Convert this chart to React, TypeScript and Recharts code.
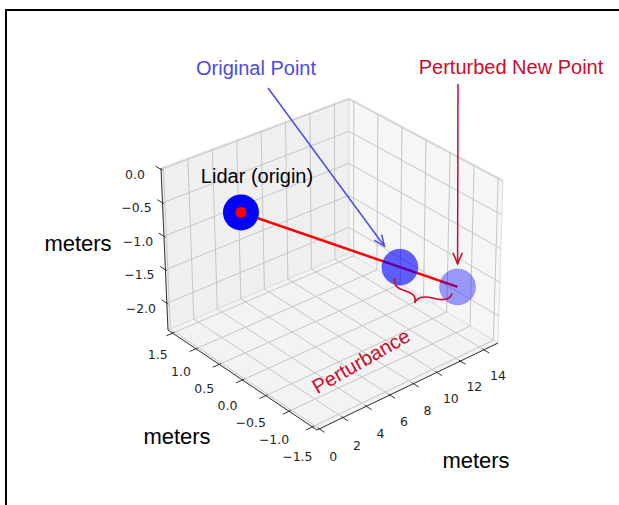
import React from 'react';
import { ScatterChart, Scatter, XAxis, YAxis } from 'recharts';

// axis ticks and limits (meters)
const X_TICKS = [0, 2, 4, 6, 8, 10, 12, 14];
const Y_TICKS = [-1.5, -1.0, -0.5, 0.0, 0.5, 1.0, 1.5];
const Z_TICKS = [-2.0, -1.5, -1.0, -0.5, 0.0];
const X_LIM = [-0.2, 15.2];
const Y_LIM = [-1.6, 1.6];
const Z_LIM = [-2.4, 0.02];

// points (x, y, z)
const LIDAR = [0, 0, 0];
const ORIGINAL = [9.15, -1.0, -1.05];
const PERTURBED = [12.55, -1.37, -1.45];

const W = 619;
const H = 505;

// camera: screen spot of the box corners, f = (xmin,ymin) r = (xmax,ymin) l = (xmin,ymax) b = (xmax,ymax)
const VIEW_BOTTOM = { f: [317, 430], r: [498, 343], l: [168, 330], b: [349, 253] };
const VIEW_TOP = { f: [316, 256], r: [503, 180], l: [161, 168], b: [349, 98] };

// annotation placement (screen px)
const NOTE = {
  original: { x: 256, y: 68, from: [268, 88] },
  perturbed: { x: 511, y: 67, from: [458, 84] },
  lidar: { x: 257, y: 176 },
  perturbance: { x: 361, y: 361, angle: -30 },
  zLabel: { x: 78, y: 243 },
  yLabel: { x: 177, y: 436 },
  xLabel: { x: 476, y: 460 },
};

const BLUE_NOTE = '#4b4be6';
const RED_NOTE = '#cc0a2a';

const norm = (v: number, lim: number[]) => (v - lim[0]) / (lim[1] - lim[0]);
const bil = (c: any, u: number, v: number, i: number) =>
  (1 - u) * (1 - v) * c.f[i] + u * (1 - v) * c.r[i] + (1 - u) * v * c.l[i] + u * v * c.b[i];

function project(p: number[]) {
  const u = norm(p[0], X_LIM);
  const v = norm(p[1], Y_LIM);
  const w = norm(p[2], Z_LIM);
  return {
    px: bil(VIEW_BOTTOM, u, v, 0) * (1 - w) + bil(VIEW_TOP, u, v, 0) * w,
    py: bil(VIEW_BOTTOM, u, v, 1) * (1 - w) + bil(VIEW_TOP, u, v, 1) * w,
  };
}

const [X0, X1] = X_LIM;
const [Y0, Y1] = Y_LIM;
const [Z0, Z1] = Z_LIM;
const RX = X1 - X0;
const RY = Y1 - Y0;

const fmt = (v: number) => (v < 0 ? '\u2212' : '') + Math.abs(v).toFixed(1);

const panes = [
  { fill: '#efefef', pts: [[X0, Y1, Z0], [X1, Y1, Z0], [X1, Y1, Z1], [X0, Y1, Z1]] },
  { fill: '#f6f6f6', pts: [[X1, Y0, Z0], [X1, Y1, Z0], [X1, Y1, Z1], [X1, Y0, Z1]] },
  { fill: '#f3f3f3', pts: [[X0, Y0, Z0], [X1, Y0, Z0], [X1, Y1, Z0], [X0, Y1, Z0]] },
];

const gridSegs = [
  ...X_TICKS.map((t) => [[t, Y1, Z0], [t, Y1, Z1]]),
  ...Z_TICKS.map((t) => [[X0, Y1, t], [X1, Y1, t]]),
  ...Y_TICKS.map((t) => [[X1, t, Z0], [X1, t, Z1]]),
  ...Z_TICKS.map((t) => [[X1, Y0, t], [X1, Y1, t]]),
  ...X_TICKS.map((t) => [[t, Y0, Z0], [t, Y1, Z0]]),
  ...Y_TICKS.map((t) => [[X0, t, Z0], [X1, t, Z0]]),
];

const axisSegs = [
  [[X0, Y1, Z0], [X0, Y1, Z1]],
  [[X0, Y0, Z0], [X0, Y1, Z0]],
  [[X0, Y0, Z0], [X1, Y0, Z0]],
  ...X_TICKS.map((t) => [[t, Y0 + 0.01 * RY, Z0], [t, Y0 - 0.035 * RY, Z0]]),
  ...Y_TICKS.map((t) => [[X0 + 0.01 * RX, t, Z0], [X0 - 0.035 * RX, t, Z0]]),
  ...Z_TICKS.map((t) => [[X0, Y1 - 0.01 * RY, t], [X0, Y1 + 0.035 * RY, t]]),
];

const tickLabels = [
  ...X_TICKS.map((t) => {
    const p = project([t, Y0, Z0]);
    const u = norm(t, X_LIM);
    return { px: p.px + 14, py: p.py + 28 - 3 * u, label: String(t) };
  }),
  ...Y_TICKS.map((t) => {
    const p = project([X0, t, Z0]);
    const v = norm(t, Y_LIM);
    return { px: p.px - 15, py: p.py + 21 + 9 * (1 - v), label: fmt(t) };
  }),
  ...Z_TICKS.map((t) => {
    const p = project([X0, Y1, t]);
    return { px: p.px - 26, py: p.py + 5, label: fmt(t) };
  }),
];

const shrinkTo = (from: number[], target: number[], gap: number) => {
  const t = project(target);
  const dx = t.px - from[0];
  const dy = t.py - from[1];
  const len = Math.hypot(dx, dy);
  return { px: t.px - (dx / len) * gap, py: t.py - (dy / len) * gap };
};

const none = () => <g />;

const arrowLine = (color: string) => (props: any) => {
  const [a, b] = props.points;
  const ang = Math.atan2(b.y - a.y, b.x - a.x);
  const L = 12;
  const s = 0.4;
  const p1 = `${b.x - L * Math.cos(ang - s)},${b.y - L * Math.sin(ang - s)}`;
  const p2 = `${b.x - L * Math.cos(ang + s)},${b.y - L * Math.sin(ang + s)}`;
  return (
    <g>
      <line x1={a.x} y1={a.y} x2={b.x} y2={b.y} stroke={color} strokeWidth={1.5} />
      <polyline points={`${p1} ${b.x},${b.y} ${p2}`} fill="none" stroke={color} strokeWidth={1.5} />
    </g>
  );
};

// curly brace under the segment original -> perturbed
const braceLine = (props: any) => {
  const [p, q] = props.points;
  const len = Math.hypot(q.x - p.x, q.y - p.y);
  const d = { x: (q.x - p.x) / len, y: (q.y - p.y) / len };
  const n = { x: -d.y, y: d.x };
  const A = { x: p.x + n.x * 12 - d.x * 1, y: p.y + n.y * 12 - d.y * 1 };
  const B = { x: q.x + n.x * 8 - d.x * 3, y: q.y + n.y * 8 - d.y * 3 };
  const f = 0.45;
  const M = { x: A.x + (B.x - A.x) * f, y: A.y + (B.y - A.y) * f };
  const h = 19;
  const C = { x: M.x + n.x * h, y: M.y + n.y * h };
  const half = (E: any) => {
    const c1 = { x: E.x + n.x * h * 0.5, y: E.y + n.y * h * 0.5 };
    const mid = { x: c1.x + (M.x - E.x) * 0.5, y: c1.y + (M.y - E.y) * 0.5 };
    const c2 = { x: M.x + n.x * h * 0.5, y: M.y + n.y * h * 0.5 };
    return `M${E.x},${E.y} Q${c1.x},${c1.y} ${mid.x},${mid.y} Q${c2.x},${c2.y} ${C.x},${C.y}`;
  };
  return <path d={`${half(A)} ${half(B)}`} fill="none" stroke={RED_NOTE} strokeWidth={1.6} />;
};

const textShape = (style: any) => (p: any) => (
  <text
    x={p.cx}
    y={p.cy}
    textAnchor="middle"
    dominantBaseline="central"
    transform={p.payload.angle ? `rotate(${p.payload.angle} ${p.cx} ${p.cy})` : undefined}
    {...style}
  >
    {p.payload.label}
  </text>
);

const tickText = textShape({ fontFamily: 'DejaVu Sans, sans-serif', fontSize: 12.5, fill: '#1f1f1f' });
const axisText = textShape({ fontFamily: 'Liberation Sans, Arial, sans-serif', fontSize: 22, fill: '#000' });

const lidarShape = (p: any) => (
  <g>
    <circle cx={p.cx} cy={p.cy} r={18} fill="#0000ff" />
    <circle cx={p.cx} cy={p.cy} r={5.5} fill="#ff0000" />
  </g>
);
const ballShape = (opacity: number) => (p: any) => (
  <circle cx={p.cx} cy={p.cy} r={18} fill="#0000ff" fillOpacity={opacity} stroke="#0000ff" strokeOpacity={opacity * 0.5} />
);

export default function App() {
  const lidar = project(LIDAR);
  const original = project(ORIGINAL);
  const perturbed = project(PERTURBED);
  const origFrom = { px: NOTE.original.from[0], py: NOTE.original.from[1] };
  const pertFrom = { px: NOTE.perturbed.from[0], py: NOTE.perturbed.from[1] };

  return (
    <div style={{ position: 'absolute', left: 0, top: 0, width: W, height: H, background: '#fff', overflow: 'hidden' }}>
      <ScatterChart width={W} height={H} margin={{ top: 0, right: 0, bottom: 0, left: 0 }}>
        <XAxis type="number" dataKey="px" domain={[0, W]} allowDataOverflow hide />
        <YAxis type="number" dataKey="py" domain={[0, H]} allowDataOverflow reversed hide />

        {panes.map((pane, i) => (
          <Scatter
            key={`pane${i}`}
            data={[...pane.pts, pane.pts[0]].map(project)}
            shape={none}
            line={{ stroke: '#dedede', strokeWidth: 1, fill: pane.fill }}
            lineJointType="linear"
            isAnimationActive={false}
          />
        ))}
        {gridSegs.map((s, i) => (
          <Scatter
            key={`grid${i}`}
            data={s.map(project)}
            shape={none}
            line={{ stroke: '#c6c6c6', strokeWidth: 1 }}
            lineJointType="linear"
            isAnimationActive={false}
          />
        ))}
        {axisSegs.map((s, i) => (
          <Scatter
            key={`axis${i}`}
            data={s.map(project)}
            shape={none}
            line={{ stroke: '#333', strokeWidth: 1 }}
            lineJointType="linear"
            isAnimationActive={false}
          />
        ))}
        <Scatter data={tickLabels} shape={tickText} isAnimationActive={false} />

        <Scatter
          data={[lidar, perturbed]}
          shape={none}
          line={{ stroke: '#ff0000', strokeWidth: 2.5 }}
          lineJointType="linear"
          isAnimationActive={false}
        />
        <Scatter data={[lidar]} shape={lidarShape} isAnimationActive={false} />
        <Scatter data={[original]} shape={ballShape(0.62)} isAnimationActive={false} />
        <Scatter data={[perturbed]} shape={ballShape(0.38)} isAnimationActive={false} />

        <Scatter data={[original, perturbed]} shape={none} line={braceLine} isAnimationActive={false} />
        <Scatter
          data={[origFrom, shrinkTo(NOTE.original.from, ORIGINAL, 26)]}
          shape={none}
          line={arrowLine(BLUE_NOTE)}
          isAnimationActive={false}
        />
        <Scatter
          data={[pertFrom, shrinkTo(NOTE.perturbed.from, PERTURBED, 23)]}
          shape={none}
          line={arrowLine(RED_NOTE)}
          isAnimationActive={false}
        />

        <Scatter
          data={[{ px: NOTE.original.x, py: NOTE.original.y, label: 'Original Point' }]}
          shape={textShape({ fontFamily: 'Liberation Sans, Arial, sans-serif', fontSize: 20, fill: BLUE_NOTE })}
          isAnimationActive={false}
        />
        <Scatter
          data={[
            { px: NOTE.perturbed.x, py: NOTE.perturbed.y, label: 'Perturbed New Point' },
            { px: NOTE.perturbance.x, py: NOTE.perturbance.y, label: 'Perturbance', angle: NOTE.perturbance.angle },
          ]}
          shape={textShape({ fontFamily: 'Liberation Sans, Arial, sans-serif', fontSize: 20, fill: RED_NOTE })}
          isAnimationActive={false}
        />
        <Scatter
          data={[{ px: NOTE.lidar.x, py: NOTE.lidar.y, label: 'Lidar (origin)' }]}
          shape={textShape({ fontFamily: 'Liberation Sans, Arial, sans-serif', fontSize: 20, fill: '#000' })}
          isAnimationActive={false}
        />
        <Scatter
          data={[
            { px: NOTE.zLabel.x, py: NOTE.zLabel.y, label: 'meters' },
            { px: NOTE.yLabel.x, py: NOTE.yLabel.y, label: 'meters' },
            { px: NOTE.xLabel.x, py: NOTE.xLabel.y, label: 'meters' },
          ]}
          shape={axisText}
          isAnimationActive={false}
        />
      </ScatterChart>
      <div
        style={{
          position: 'absolute',
          left: 5,
          top: 9,
          width: W - 5,
          height: H - 9,
          borderLeft: '2px solid #000',
          borderTop: '2px solid #000',
          boxSizing: 'border-box',
          pointerEvents: 'none',
        }}
      />
    </div>
  );
}
